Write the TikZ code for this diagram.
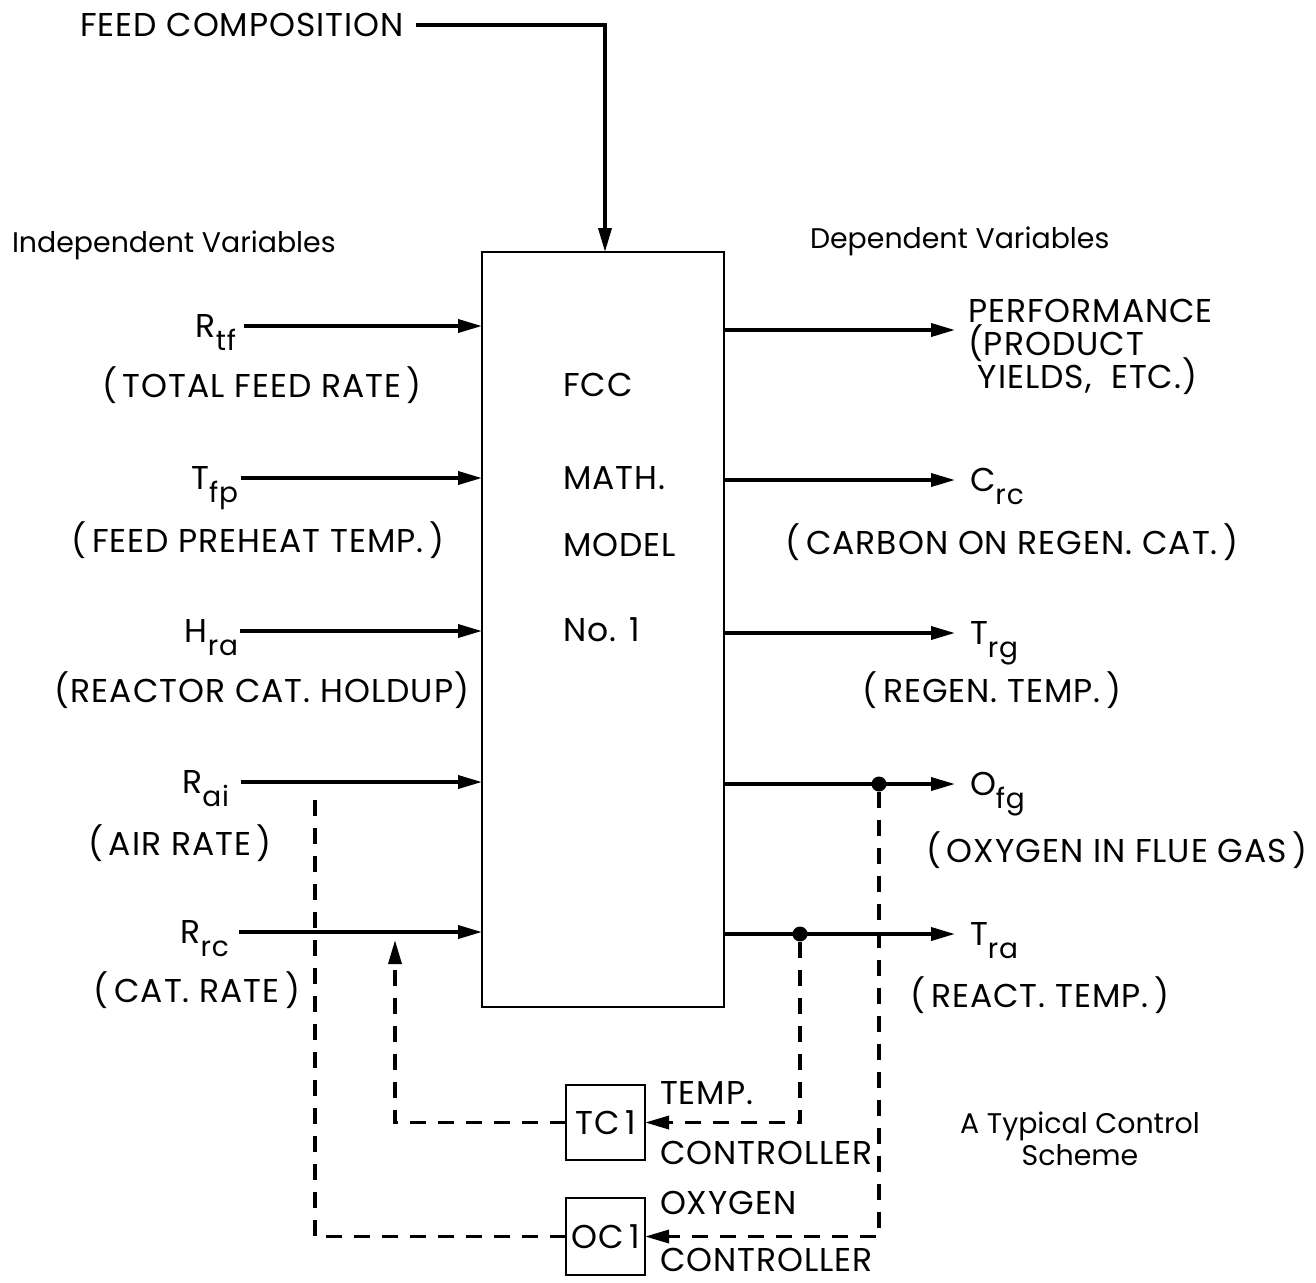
\documentclass[tikz,border=0pt]{standalone}
\usepackage{fontspec}
\setmainfont{Poppins}[LetterSpace=3]
\usetikzlibrary{arrows.meta}
\newcommand\subs[1]{\smash{\raisebox{-0.7ex}{\fontsize{14}{15}\selectfont #1}}}
\newcommand\lowertext{\fontsize{14.2}{16}\selectfont\addfontfeatures{LetterSpace=0}}
\begin{document}
\begin{tikzpicture}[x=0.5pt,y=-0.5pt,
  every node/.style={font=\fontsize{16.5}{17}\selectfont, inner sep=0pt, outer sep=0pt},
  tip/.style={-{Triangle[length=12pt,width=6.5pt]}},
  flow/.style={line width=1.8pt, tip},
  ctrl/.style={line width=1.7pt, dash pattern=on 8pt off 6pt},
  boxed/.style={draw, line width=1.2pt},
  dot/.style={circle, fill, minimum size=7.5pt, inner sep=0pt}]
\useasboundingbox (0,0) rectangle (1316,1282);

% feed composition
\node[anchor=west] (feed) at (80,25) {FEED COMPOSITION};
\node[boxed, minimum width=121pt, minimum height=377.5pt] (box) at (603,629.5) {};
\draw[flow] ([xshift=6pt]feed.east) -| ([xshift=1pt]box.north);

% headings
\node[anchor=west, font=\lowertext] (indep) at (12,245) {Independent Variables};
\node[anchor=west, font=\lowertext] (dep) at (810,241) {Dependent Variables};

% box text
\node[anchor=west] (t1) at (563,385) {FCC};
\node[anchor=west] (t2) at (563,478) {MATH.};
\node[anchor=west] (t3) at (563,545) {MODEL};
\node[anchor=west] (t4) at (563,630) {No. 1};

% inputs
\node[anchor=east] (rtf) at (236,326) {R\subs{tf}};
\node (rtfd) at (262,385) {(\,TOTAL FEED RATE\,)};
\node[anchor=east] (tfp) at (238,478) {T\subs{fp}};
\node (tfpd) at (258,540) {(\,FEED PREHEAT TEMP.\,)};
\node[anchor=east] (hra) at (238,631) {H\subs{ra}};
\node (hrad) at (262,690) {(REACTOR CAT. HOLDUP)};
\node[anchor=east] (rai) at (229,782) {R\subs{ai}};
\node (raid) at (180,843) {(\,AIR RATE\,)};
\node[anchor=east] (rrc) at (229,932) {R\subs{rc}};
\node (rrcd) at (197,990) {(\,CAT. RATE\,)};

\draw[flow] ([xshift=4pt]rtf.east) -- (rtf.east -| box.west);
\draw[flow] ([xshift=1.5pt]tfp.east) -- (tfp.east -| box.west);
\draw[flow] ([xshift=1pt]hra.east) -- (hra.east -| box.west);
\draw[flow] ([xshift=6pt]rai.east) -- (rai.east -| box.west);
\draw[flow] ([xshift=5pt]rrc.east) -- (rrc.east -| box.west);

% outputs
\node[anchor=west] (perf) at (968,311) {PERFORMANCE};
\node[anchor=west] (perf2) at (968,343) {(PRODUCT};
\node[anchor=west] (perf3) at (968,376) {\ YIELDS, \ ETC.)};
\node[anchor=west] (crc) at (970,480) {C\subs{rc}};
\node (crcd) at (1012,542) {(\,CARBON ON REGEN. CAT.\,)};
\node[anchor=west] (trg) at (970,633) {T\subs{rg}};
\node (trgd) at (992,690) {(\,REGEN. TEMP.\,)};
\node[anchor=west] (ofg) at (970,784) {O\subs{fg}};
\node (ofgd) at (1117,850) {(\,OXYGEN IN FLUE GAS\,)};
\node[anchor=west] (tra) at (970,934) {T\subs{ra}};
\node (trad) at (1040,995) {(\,REACT. TEMP.\,)};

\draw[flow] (box.east |- 0,330) -- ([xshift=-6.5pt]perf.west |- 0,330);
\draw[flow] (box.east |- crc) -- ([xshift=-7.5pt]crc.west);
\draw[flow] (box.east |- trg) -- ([xshift=-7.5pt]trg.west);
\draw[flow] (box.east |- ofg) -- ([xshift=-7.5pt]ofg.west);
\draw[flow] (box.east |- tra) -- ([xshift=-7.5pt]tra.west);

% junction dots
\node[dot] (j1) at (879,784) {};
\node[dot] (j2) at (800,934) {};

% controllers
\node[boxed, minimum width=39.5pt, minimum height=37.5pt] (tc) at (605.5,1122.5) {TC\,1};
\node[boxed, minimum width=39.5pt, minimum height=38.5pt] (oc) at (605.5,1236.5) {OC\,1};
\node[anchor=west] (tcl1) at (660,1093) {TEMP.};
\node[anchor=west] (tcl2) at (660,1153) {CONTROLLER};
\node[anchor=west] (ocl1) at (660,1203) {OXYGEN};
\node[anchor=west] (ocl2) at (660,1260) {CONTROLLER};

\coordinate (rrcin) at (395,940);
\coordinate (raiout) at (315,790);

\draw[ctrl, tip] (j2.south) -- (j2 |- tc) -- (tc.east);
\draw[ctrl, tip] (tc.west) -| (rrcin);
\draw[ctrl, tip] (j1.south) -- (j1 |- oc) -- (oc.east);
\draw[ctrl] (oc.west) -| (raiout);

% caption
\node[align=center, font=\lowertext] (cap) at (1080,1139) {A Typical Control\\Scheme};
\end{tikzpicture}
\end{document}
